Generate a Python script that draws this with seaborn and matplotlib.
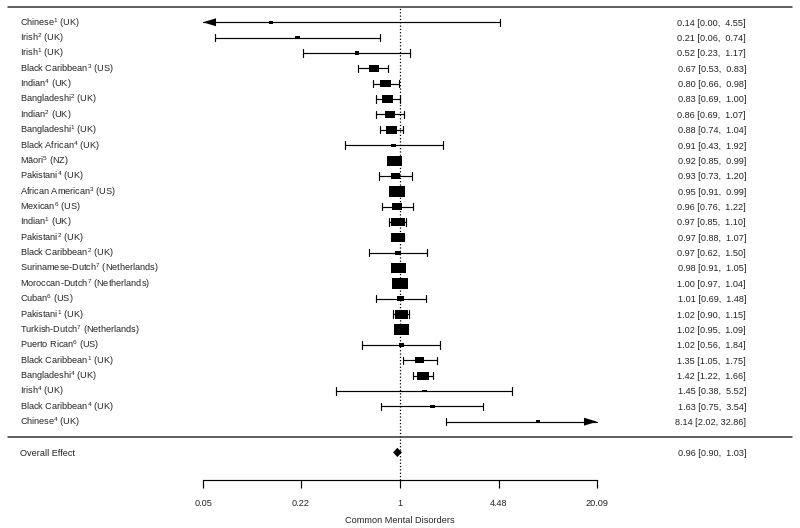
import numpy as np
import pandas as pd
import matplotlib
matplotlib.use("Agg")
import matplotlib.pyplot as plt
import matplotlib.transforms as mtransforms
import seaborn as sns

# study data, top to bottom
groups = ["Chinese", "Irish", "Irish", "Black Caribbean", "Indian", "Bangladeshi", "Indian",
          "Bangladeshi", "Black African", "Māori", "Pakistani", "African American", "Mexican",
          "Indian", "Pakistani", "Black Caribbean", "Surinamese-Dutch", "Moroccan-Dutch", "Cuban",
          "Pakistani", "Turkish-Dutch", "Puerto Rican", "Black Caribbean", "Bangladeshi", "Irish",
          "Black Caribbean", "Chinese"]
refs = [1, 2, 1, 3, 4, 2, 2, 1, 4, 5, 4, 3, 6, 1, 2, 2, 7, 7, 6, 1, 7, 6, 1, 4, 4, 4, 4]
countries = ["UK", "UK", "UK", "US", "UK", "UK", "UK", "UK", "UK", "NZ", "UK", "US", "US", "UK",
             "UK", "UK", "Netherlands", "Netherlands", "US", "UK", "Netherlands", "US", "UK", "UK",
             "UK", "UK", "UK"]
est = [0.14, 0.21, 0.52, 0.67, 0.80, 0.83, 0.86, 0.88, 0.91, 0.92, 0.93, 0.95, 0.96, 0.97, 0.97,
       0.97, 0.98, 1.00, 1.01, 1.02, 1.02, 1.02, 1.35, 1.42, 1.45, 1.63, 8.14]
lower = [0.00, 0.06, 0.23, 0.53, 0.66, 0.69, 0.69, 0.74, 0.43, 0.85, 0.73, 0.91, 0.76, 0.85, 0.88,
         0.62, 0.91, 0.97, 0.69, 0.90, 0.95, 0.56, 1.05, 1.22, 0.38, 0.75, 2.02]
upper = [4.55, 0.74, 1.17, 0.83, 0.98, 1.00, 1.07, 1.04, 1.92, 0.99, 1.20, 0.99, 1.22, 1.10, 1.07,
         1.50, 1.05, 1.04, 1.48, 1.15, 1.09, 1.84, 1.75, 1.66, 5.52, 3.54, 32.86]
overall = (0.96, 0.90, 1.03)
tick_vals = [0.05, 0.22, 1, 4.48, 20.09]

df = pd.DataFrame({"group": groups, "ref": refs, "country": countries,
                   "est": est, "lb": lower, "ub": upper})
k = len(df)
df["row"] = np.arange(k, 0, -1)

# random-effects weights for the square sizes
yi = np.log(df["est"])
se = np.where(df["lb"] > 0,
              (np.log(df["ub"]) - np.log(df["lb"].clip(lower=1e-9))) / 3.92,
              (np.log(df["ub"]) - yi) / 1.96)
vi = se ** 2
tau2 = 0.0125
wr = 1 / (vi + tau2)
norm = (wr - wr.min()) / (wr.max() - wr.min())
width_px = 4 + 12 * norm
df["area"] = (width_px * 0.72) ** 2

sns.set_style("white")
plt.rcParams["font.family"] = ["Liberation Sans", "DejaVu Sans"]
plt.rcParams["mathtext.default"] = "regular"

fig = plt.figure(figsize=(8, 5.28), dpi=100)
ax = fig.add_axes([0, 0, 1, 1])
ax.set_xscale("log")
lim = np.exp(6.088)
ax.set_xlim(1 / lim, lim)
ax.set_ylim(-5.92, 28.45)

xmin_a, xmax_a = np.exp(-3), np.exp(3)
lc = "black"
lw = 0.85
cap = 0.24

for _, r in df.iterrows():
    lo = max(r["lb"], xmin_a)
    hi = min(r["ub"], xmax_a)
    y = r["row"]
    ax.plot([lo, hi], [y, y], color=lc, lw=lw)
    if r["lb"] >= xmin_a:
        ax.plot([lo, lo], [y - cap, y + cap], color=lc, lw=lw)
    else:
        ax.fill([xmin_a, xmin_a * np.exp(0.2), xmin_a * np.exp(0.2)],
                [y, y + 0.26, y - 0.26], color=lc, lw=0)
    if r["ub"] <= xmax_a:
        ax.plot([hi, hi], [y - cap, y + cap], color=lc, lw=lw)
    else:
        ax.fill([xmax_a, xmax_a * np.exp(-0.2), xmax_a * np.exp(-0.2)],
                [y, y + 0.26, y - 0.26], color=lc, lw=0)

rect = [(-1.5, -1), (1.5, -1), (1.5, 1), (-1.5, 1), (-1.5, -1)]
sns.scatterplot(data=df, x="est", y="row", size="area",
                sizes=(df["area"].min(), df["area"].max()),
                marker=rect, color="black", edgecolor="none", linewidth=0,
                legend=False, ax=ax, zorder=3)

# overall effect diamond
oe, ol, ou = overall
ax.fill([ol, oe, ou, oe], [-1, -0.7, -1, -1.3], color="black", lw=0, zorder=3)

# reference line and separators
ax.plot([1, 1], [-2.8, 28], color="black", ls=":", lw=0.9)
ax.axhline(28, xmin=0.01, xmax=0.99, color="#333333", lw=1.1)
ax.axhline(0, xmin=0.01, xmax=0.99, color="#333333", lw=1.1)

trans = mtransforms.blended_transform_factory(ax.transAxes, ax.transData)
fs = 6.6
for _, r in df.iterrows():
    label = f"{r['group']}$^{{{r['ref']}}}$ ({r['country']})"
    ax.text(0.025, r["row"] - 0.22, label, transform=trans, ha="left", va="baseline", fontsize=fs)
    txt = f"{r['est']:.2f} [{r['lb']:.2f}, {r['ub']:5.2f}]"
    ax.text(0.9325, r["row"] - 0.22, txt, transform=trans, ha="right", va="baseline", fontsize=fs)
ax.text(0.025, -1.22, "Overall Effect", transform=trans, ha="left", va="baseline", fontsize=fs)
ax.text(0.9325, -1.22, f"{oe:.2f} [{ol:.2f}, {ou:5.2f}]", transform=trans,
        ha="right", va="baseline", fontsize=fs)

# x axis
for s in ["top", "left", "right"]:
    ax.spines[s].set_visible(False)
ax.spines["bottom"].set_position(("data", -2.8))
ax.spines["bottom"].set_bounds(xmin_a, xmax_a)
ax.spines["bottom"].set_color("black")
ax.spines["bottom"].set_linewidth(lw)
ax.set_xticks(tick_vals)
ax.set_xticklabels([str(t) for t in tick_vals])
ax.xaxis.set_minor_locator(matplotlib.ticker.NullLocator())
ax.tick_params(axis="x", direction="out", length=5.8, width=lw, pad=7.5, labelsize=fs,
               bottom=True, color="black")
ax.set_yticks([])
ax.set_ylabel("")
ax.set_xlabel("Common Mental Disorders", fontsize=fs, labelpad=6)

fig.savefig("out.png", dpi=100)
